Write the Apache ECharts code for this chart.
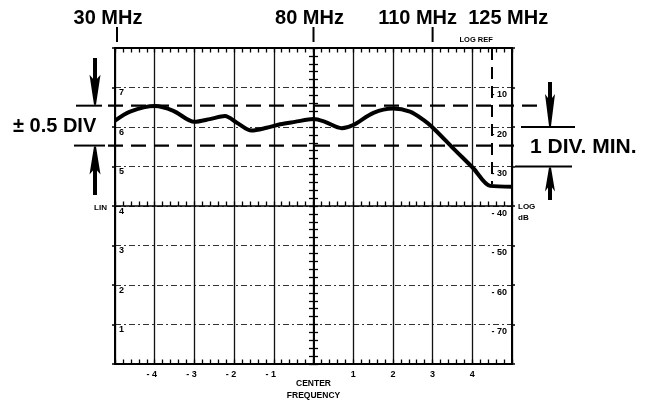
<!DOCTYPE html>
<html><head><meta charset="utf-8">
<script src="https://cdn.jsdelivr.net/npm/echarts@6/dist/echarts.min.js"></script>
<style>html,body{margin:0;padding:0;background:#fff}#c{width:655px;height:406px}</style>
</head><body><div id="c"></div>
<script>
// ---- data (divisions from center frequency, LIN divisions) ----
const divX = [-5, -4.62, -4, -3.53, -3, -2.61, -2.23, -1.93, -1.56, -1.18, -0.84, -0.47, 0, 0.29, 0.71, 1.0, 1.51, 2.0, 2.43, 2.77, 3.02, 3.52, 4.03, 4.45, 5];
const linY = [6.16, 6.39, 6.53, 6.41, 6.13, 6.20, 6.28, 6.11, 5.91, 5.98, 6.07, 6.13, 6.20, 6.13, 5.97, 6.05, 6.36, 6.47, 6.39, 6.18, 5.97, 5.46, 4.95, 4.51, 4.49];
const xTicks = [-4, -3, -2, -1, 1, 2, 3, 4];
const xTickText = ['- 4', '- 3', '- 2', '- 1', '1', '2', '3', '4'];
const linTicks = [1, 2, 3, 4, 5, 6, 7];
const linText = ['1', '2', '3', '4', '5', '6', '7'];
const logTicks = [-70, -60, -50, -40, -30, -20, -10];
const logText = ['- 70', '- 60', '- 50', '- 40', '- 30', '- 20', '- 10'];
const mhzLabels = ['30 MHz', '80 MHz', '110 MHz', '125 MHz'];
const mhzDiv = [-5, 0, 3, 4.5];
const refLevels = [6.54, 5.53];   // ±0.5 DIV window
const minSpan = [6, 5];           // 1 DIV. MIN.
const logRefDiv = 4.5;
const logRefBottom = 4.55;

const FONT = '"Liberation Sans", Arial, Helvetica, sans-serif';
const K = '#000';
const chart = echarts.init(document.getElementById('c'));
const curve = divX.map((x, i) => [x, linY[i]]);

const baseX = { type: 'value', min: -5, max: 5, interval: 1, gridIndex: 0 };
const minor = { show: true, splitNumber: 5, length: 4.5, lineStyle: { color: K, width: 1.3 } };
const tick = (inside) => ({ show: true, inside: inside, length: 4.5, lineStyle: { color: K, width: 1.3 } });
const lblStyle = { color: K, fontFamily: FONT, fontWeight: 'bold', fontSize: 9 };

chart.setOption({
  animation: false,
  backgroundColor: '#fff',
  grid: { left: 115, right: 143, top: 48, bottom: 42, containLabel: false, outerBoundsMode: 'none' },
  xAxis: [
    Object.assign({}, baseX, {
      position: 'bottom',
      axisLine: { onZero: false, lineStyle: { color: K, width: 2 } },
      axisTick: tick(true),
      minorTick: minor,
      splitLine: { show: true, lineStyle: { color: '#111', width: 1.3 } },
      axisLabel: Object.assign({}, lblStyle, {
        margin: 6,
        formatter: v => { const i = xTicks.indexOf(v); if (i < 0) return ''; return v < 0 ? '{n|' + xTickText[i] + '}' : xTickText[i]; },
        rich: { n: Object.assign({}, lblStyle, { padding: [0, 6, 0, 0] }) }
      }),
      name: 'CENTER\nFREQUENCY', nameLocation: 'middle', nameGap: 14, nameMoveOverlap: false,
      nameTextStyle: Object.assign({}, lblStyle, { fontSize: 8.5, lineHeight: 12 })
    }),
    Object.assign({}, baseX, {
      position: 'top',
      axisLine: { onZero: false, lineStyle: { color: K, width: 2 } },
      axisTick: tick(true),
      minorTick: minor,
      splitLine: { show: false }, axisLabel: { show: false }
    }),
    Object.assign({}, baseX, {
      position: 'bottom',
      axisLine: { onZero: true, onZeroAxisIndex: 2, lineStyle: { color: K, width: 1.6 } },
      axisTick: tick(true),
      minorTick: minor,
      splitLine: { show: false }, axisLabel: { show: false }
    })
  ],
  yAxis: [
    {
      type: 'value', min: 0, max: 8, interval: 1, position: 'left',
      axisLine: { onZero: false, lineStyle: { color: K, width: 2 } },
      axisTick: { show: true, inside: false, length: 3, lineStyle: { color: K, width: 1.5 } },
      splitLine: { show: true, lineStyle: { color: '#333', width: 1, type: [6, 3, 2, 3] } },
      axisLabel: Object.assign({}, lblStyle, {
        inside: true, margin: 4, verticalAlign: 'top', padding: [1, 0, 0, 0],
        formatter: v => { const i = linTicks.indexOf(v); return i < 0 ? '' : linText[i]; }
      })
    },
    {
      type: 'value', min: -80, max: 0, interval: 10, position: 'right',
      axisLine: { onZero: false, lineStyle: { color: K, width: 2 } },
      axisTick: { show: true, inside: false, length: 3, lineStyle: { color: K, width: 1.5 } },
      splitLine: { show: false },
      axisLabel: Object.assign({}, lblStyle, {
        inside: true, margin: 5, verticalAlign: 'top', padding: [3, 0, 0, 0],
        formatter: v => { const i = logTicks.indexOf(v); return i < 0 ? '' : logText[i]; }
      })
    },
    {
      type: 'value', min: -4, max: 4, interval: 1, position: 'left',
      axisLine: { onZero: true, onZeroAxisIndex: 0, lineStyle: { color: K, width: 1.6 } },
      axisTick: tick(false),
      minorTick: minor, splitLine: { show: false }, axisLabel: { show: false }
    },
    {
      type: 'value', min: -4, max: 4, interval: 1, position: 'left',
      axisLine: { onZero: true, onZeroAxisIndex: 0, lineStyle: { color: K, width: 1.6 } },
      axisTick: tick(true),
      minorTick: minor, splitLine: { show: false }, axisLabel: { show: false }
    }
  ],
  series: [{
    type: 'line', xAxisIndex: 0, yAxisIndex: 0, data: curve,
    smooth: 0.3, symbol: 'none', clip: false,
    lineStyle: { color: K, width: 4 },
    markLine: {
      silent: true, symbol: ['none', 'none'], label: { show: false },
      lineStyle: { color: K, width: 2, type: [12, 7] },
      data: [[{ coord: [logRefDiv, 8] }, { coord: [logRefDiv, logRefBottom] }]]
    }
  }]
});

const px = v => chart.convertToPixel({ xAxisIndex: 0 }, v);
const py = v => chart.convertToPixel({ yAxisIndex: 0 }, v);
const g = [];
const txt = (x, y, s, size, align, va, extra) => g.push({
  type: 'text', x: x, y: y, silent: true,
  style: Object.assign({ text: s, fill: K, font: 'bold ' + size + 'px ' + FONT, align: align || 'left', verticalAlign: va || 'middle' }, extra || {})
});
const line = (x1, y1, x2, y2, w, dash) => g.push({
  type: 'line', silent: true, shape: { x1: x1, y1: y1, x2: x2, y2: y2 },
  style: { stroke: K, lineWidth: w, lineDash: dash || null }
});
const arrow = (x, y0, tip, headLen, headW, shaftW) => {
  const d = tip > y0 ? 1 : -1, b = tip - d * headLen;
  g.push({ type: 'polygon', silent: true, shape: { points: [
    [x - shaftW / 2, y0], [x + shaftW / 2, y0], [x + shaftW / 2, b], [x + headW / 2, b - d * 4],
    [x + 1, tip], [x - 1, tip], [x - headW / 2, b - d * 4], [x - shaftW / 2, b]] }, style: { fill: K } });
};

// top frequency labels and marks
const lblShift = [-7, -4, -15, 16];
const tickShift = [2, 0, 0];
mhzLabels.forEach((s, i) => {
  txt(px(mhzDiv[i]) + lblShift[i], 18, s, 20, 'center');
  if (i < tickShift.length) line(px(mhzDiv[i]) + tickShift[i], 27, px(mhzDiv[i]) + tickShift[i], 42, 2);
});
txt(px(logRefDiv) - 16, 40, 'LOG REF', 7.5, 'center');

// ±0.5 DIV window
const yA = py(refLevels[0]), yB = py(refLevels[1]);
line(108, yA, 540, yA, 2.2, [15, 8]);
line(108, yB, 518, yB, 2.2, [15, 8]);
line(76, yA, 102, yA, 2);
line(74, yB, 105, yB, 2);
arrow(95, 58, yA - 1, 26, 11, 4);
arrow(95, 195, yB + 1, 24, 11, 4);
txt(13, (yA + yB) / 2 + 1, '± 0.5 DIV', 20, 'left');

// 1 DIV. MIN.
const yC = py(minSpan[0]), yD = py(minSpan[1]);
line(521, yC, 575, yC, 2);
line(515, yD, 572, yD, 2);
arrow(550, 82, yC - 1, 28, 10, 4);
arrow(550, 200, yD + 1, 20, 10, 4);
txt(530, (yC + yD) / 2, '1 DIV. MIN.', 21, 'left');

// scale names
txt(107, py(4) + 2, 'LIN', 8, 'right');
txt(518, py(4) - 5, 'LOG\ndB', 8, 'left', 'top', { lineHeight: 11 });

chart.setOption({ graphic: g });
</script></body></html>
